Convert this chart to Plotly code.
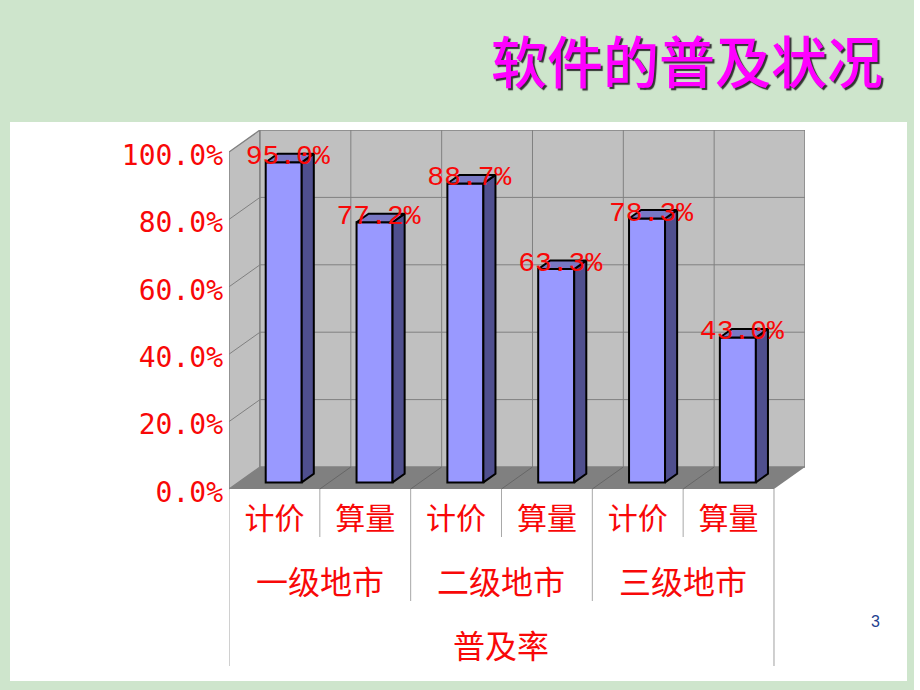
import plotly.graph_objects as go

# ---- data ----
level1 = ["计价", "算量", "计价", "算量", "计价", "算量"]
level2 = ["一级地市", "二级地市", "三级地市"]
level3 = ["普及率"]
values = [0.950, 0.772, 0.887, 0.633, 0.783, 0.430]
value_labels = ["95.0%", "77.2%", "88.7%", "63.3%", "78.3%", "43.0%"]
y_ticks = [0, 0.2, 0.4, 0.6, 0.8, 1.0]
y_tick_labels = ["0.0%", "20.0%", "40.0%", "60.0%", "80.0%", "100.0%"]
title = "软件的普及状况"

# ---- layout geometry (pixels of the page) ----
W, H = 920, 690
X0, CAT_PX = 229.0, 90.83      # left of front floor edge, width of a category
Y0, UNIT_PX = 489.0, 337.0     # zero line, pixels for 100%
PLOT_L, PLOT_R, PLOT_T, PLOT_B = 229.0, 805.0, 130.0, 672.0
DX = 31.0 / CAT_PX             # depth of the chart box in axis units
DY = 22.0 / UNIT_PX
BAR_W = 36.0 / CAT_PX
BAR_FRONT = 0.30               # bar front face position within the depth
BAR_DEPTH = 0.39               # bar depth as a share of box depth
LEVEL_Y = {2: (Y0 - 580) / UNIT_PX, 3: (Y0 - 644) / UNIT_PX}

RED = "#F80808"
GREEN = "#CEE5CC"
CJK = "Noto Sans CJK SC"
n = len(values)
xs = [i + 0.5 for i in range(n)]


def path(points):
    return "M " + " L ".join(f"{x:.4f} {y:.4f}" for x, y in points) + " Z"


def seg(x0, y0, x1, y1, color, width=1):
    return dict(type="line", xref="x", yref="y", x0=x0, y0=y0, x1=x1, y1=y1,
                layer="below", line=dict(color=color, width=width))


shapes = [
    dict(type="rect", xref="paper", yref="paper", x0=0, x1=914 / W, y0=0, y1=1,
         fillcolor=GREEN, line_width=0, layer="below"),
    dict(type="rect", xref="paper", yref="paper", x0=10 / W, x1=907 / W,
         y0=1 - 681 / H, y1=1 - 122 / H, fillcolor="white", line_width=0, layer="below"),
]
# walls and floor
wall_line = dict(color="#808080", width=1.4)
top = max(y_ticks)
shapes += [
    dict(type="path", xref="x", yref="y", layer="below", fillcolor="#C0C0C0", line=wall_line,
         path=path([(0, 0), (DX, DY), (DX, top + DY), (0, top)])),
    dict(type="path", xref="x", yref="y", layer="below", fillcolor="#C0C0C0", line=wall_line,
         path=path([(DX, DY), (n + DX, DY), (n + DX, top + DY), (DX, top + DY)])),
    dict(type="path", xref="x", yref="y", layer="below", fillcolor="#808080", line_width=0,
         path=path([(0, 0), (n, 0), (n + DX, DY), (DX, DY)])),
]
# grid on the walls and floor
for v in y_ticks[1:-1]:
    shapes.append(seg(0, v, DX, v + DY, "#808080"))
    shapes.append(seg(DX, v + DY, n + DX, v + DY, "#808080"))
for i in range(1, n):
    shapes.append(seg(i + DX, DY, i + DX, top + DY, "#808080"))
    shapes.append(seg(i, 0, i + DX, DY, "#666666"))
# multi-level axis dividers
for i in (1, 3, 5):
    shapes.append(seg(i, 0, i, (Y0 - 537) / UNIT_PX, "#A8A8A8"))
for i in (2, 4):
    shapes.append(seg(i, 0, i, (Y0 - 601) / UNIT_PX, "#A8A8A8"))
for i in (0, n):
    shapes.append(seg(i, 0, i, (Y0 - 666) / UNIT_PX, "#C4C4C4", 1.6))

fig = go.Figure()

# bar front faces
front_x = [x + BAR_FRONT * DX for x in xs]
base = BAR_FRONT * DY
fig.add_trace(go.Bar(x=front_x, y=values, base=[base] * n, width=BAR_W,
                     marker=dict(color="#9999FF", line=dict(color="black", width=2)),
                     showlegend=False, hoverinfo="skip"))

# bar side and top faces
ddx, ddy = BAR_DEPTH * DX, BAR_DEPTH * DY
side_x, side_y, top_x, top_y = [], [], [], []
for x, v in zip(front_x, values):
    r, l, t = x + BAR_W / 2, x - BAR_W / 2, v + base
    side_x += [r, r + ddx, r + ddx, r, r, None]
    side_y += [base, base + ddy, t + ddy, t, base, None]
    top_x += [l, r, r + ddx, l + ddx, l, None]
    top_y += [t, t, t + ddy, t + ddy, t, None]
fig.add_trace(go.Scatter(x=side_x, y=side_y, mode="lines", fill="toself", fillcolor="#4F4F8E",
                         line=dict(color="black", width=2), showlegend=False, hoverinfo="skip"))
fig.add_trace(go.Scatter(x=top_x, y=top_y, mode="lines", fill="toself", fillcolor="#7878C4",
                         line=dict(color="black", width=2), showlegend=False, hoverinfo="skip"))

# data labels
fig.add_trace(go.Scatter(x=[x + 4 / CAT_PX for x in front_x],
                         y=[v + base + 5 / UNIT_PX for v in values],
                         mode="text", text=value_labels, textposition="middle center",
                         textfont=dict(family="Liberation Mono", size=28, color=RED),
                         cliponaxis=False, showlegend=False, hoverinfo="skip"))

annotations = []
for i, label in enumerate(level2):
    annotations.append(dict(x=2 * i + 1, y=LEVEL_Y[2], xref="x", yref="y", text=label, showarrow=False,
                            font=dict(family=CJK, size=32, color=RED)))
annotations.append(dict(x=n / 2, y=LEVEL_Y[3], xref="x", yref="y", text=level3[0], showarrow=False,
                        font=dict(family=CJK, size=32, color=RED)))
annotations.append(dict(x=875 / W, y=1 - 621 / H, xref="paper", yref="paper", text="3", showarrow=False,
                        xanchor="center", yanchor="middle",
                        font=dict(family="Liberation Sans", size=16, color="#1F3F8F")))

fig.update_layout(
    width=W, height=H,
    margin=dict(l=0, r=0, t=0, b=0),
    paper_bgcolor="white",
    plot_bgcolor="rgba(0,0,0,0)",
    barmode="overlay",
    showlegend=False,
    shapes=shapes,
    annotations=annotations,
    title=dict(text=title, x=883 / W, xanchor="right", xref="paper", y=1 - 63 / H, yanchor="middle",
               yref="paper",
               font=dict(family=CJK, size=56, color="#FF00FF", weight=500, shadow="2px 2px 1px #333333")),
    xaxis=dict(domain=[PLOT_L / W, PLOT_R / W], range=[0, (PLOT_R - PLOT_L) / CAT_PX],
               anchor="free", position=1 - Y0 / H,
               tickmode="array", tickvals=xs, ticktext=level1, ticks="",
               tickfont=dict(family=CJK, size=30, color=RED), ticklabelstandoff=9,
               showgrid=False, zeroline=False, showline=False),
    yaxis=dict(domain=[1 - PLOT_B / H, 1 - PLOT_T / H],
               range=[(Y0 - PLOT_B) / UNIT_PX, (Y0 - PLOT_T) / UNIT_PX],
               tickmode="array", tickvals=y_ticks, ticktext=y_tick_labels, ticks="",
               tickfont=dict(family="DejaVu Sans Mono", size=28, color=RED), ticklabelstandoff=5,
               ticklabelshift=3,
               showgrid=False, zeroline=False, showline=False),
)

fig.write_html("out.html", config=dict(displayModeBar=False),
               post_script="document.body.style.margin='0';document.body.style.background='white';")
